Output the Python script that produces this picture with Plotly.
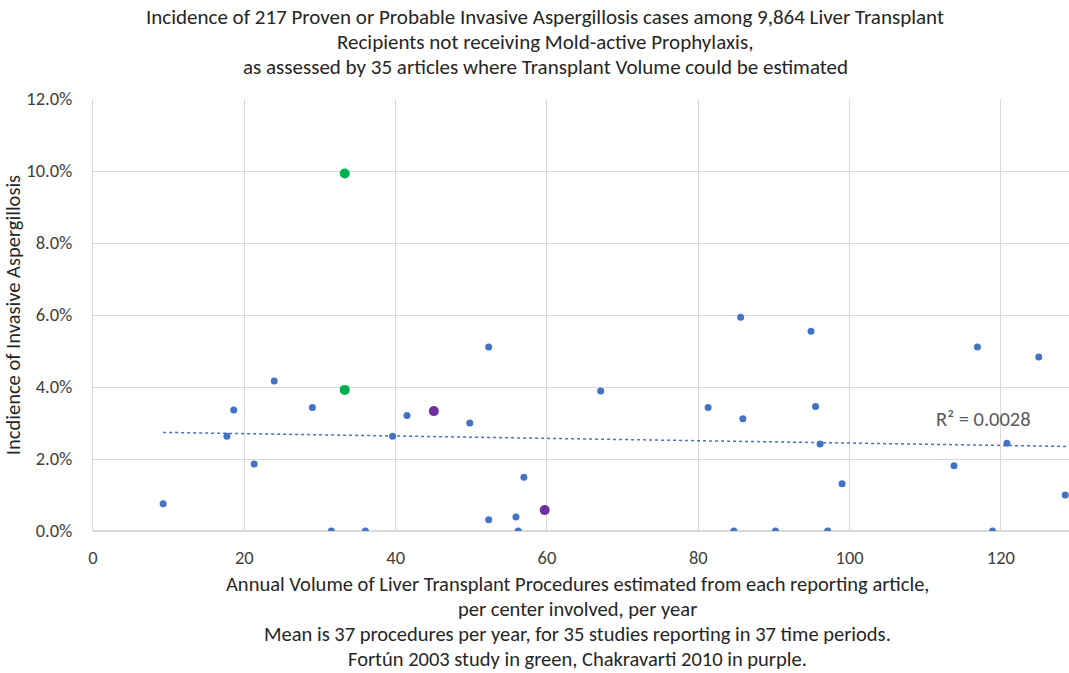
import numpy as np
import plotly.graph_objects as go

# Annual transplant volume per center (x) and IA incidence in % (y)
other_volume = [9.27, 17.7, 18.6, 21.3, 23.95, 29.0, 31.5, 36.0, 39.6, 41.5,
                49.8, 52.3, 52.3, 55.9, 56.2, 56.95, 67.1, 81.3, 84.7, 85.6,
                85.9, 90.2, 94.9, 95.5, 96.1, 97.1, 99.0, 113.8, 116.9, 118.9,
                120.8, 125.0, 128.5]
other_incidence = [0.76, 2.63, 3.36, 1.86, 4.17, 3.43, 0.0, 0.0, 2.63, 3.21,
                   3.0, 5.11, 0.31, 0.39, 0.0, 1.49, 3.89, 3.43, 0.0, 5.94,
                   3.12, 0.0, 5.55, 3.46, 2.42, 0.0, 1.31, 1.81, 5.11, 0.0,
                   2.44, 4.83, 1.0]

fortun_volume = [33.27, 33.27]
fortun_incidence = [9.93, 3.92]

chakravarti_volume = [45.05, 59.7]
chakravarti_incidence = [3.33, 0.58]

r2_label = "R² = 0.0028"

x_range = [0, 129]

title_lines = [
    "Incidence of 217 Proven or Probable Invasive Aspergillosis cases among 9,864 Liver Transplant",
    "Recipients not receiving Mold-active Prophylaxis,",
    "as assessed by 35 articles where Transplant Volume could be estimated",
]
x_title_lines = [
    "Annual Volume of Liver Transplant Procedures estimated from each reporting article,",
    "per center involved, per year",
    "Mean is 37 procedures per year, for 35 studies reporting in 37 time periods.",
    "Fortún 2003 study in green, Chakravarti 2010 in purple.",
]
y_title = "Incdience of Invasive Aspergillosis"

FONT = "Carlito, Calibri, Lato, sans-serif"
TITLE_SIZE = 21
TEXT_SIZE = 20.5
TICK_SIZE = 18.5

# Linear trend over every reporting period
all_x = np.array(other_volume + fortun_volume + chakravarti_volume)
all_y = np.array(other_incidence + fortun_incidence + chakravarti_incidence) / 100
slope, intercept = np.polyfit(all_x, all_y, 1)
trend_x = np.array([all_x.min(), x_range[1]])
trend_y = intercept + slope * trend_x

fig = go.Figure()
fig.add_trace(go.Scatter(
    x=trend_x, y=trend_y, mode="lines",
    line=dict(color="#4472C4", width=1.5, dash="dot"),
    hoverinfo="skip", showlegend=False,
))
fig.add_trace(go.Scatter(
    x=other_volume, y=np.array(other_incidence) / 100, mode="markers",
    marker=dict(color="#4472C4", size=7), showlegend=False, cliponaxis=True,
))
fig.add_trace(go.Scatter(
    x=fortun_volume, y=np.array(fortun_incidence) / 100, mode="markers",
    marker=dict(color="#00B050", size=10), showlegend=False,
))
fig.add_trace(go.Scatter(
    x=chakravarti_volume, y=np.array(chakravarti_incidence) / 100, mode="markers",
    marker=dict(color="#7030A0", size=10), showlegend=False,
))

annotations = []
for i, line in enumerate(title_lines):
    annotations.append(dict(
        text=line, xref="paper", yref="paper", x=(545 - 93) / (1069 - 93),
        xanchor="center", yanchor="middle",
        y=(531 - (17 + 25 * i)) / 432, showarrow=False,
        font=dict(family=FONT, size=TITLE_SIZE, color="#262626"),
    ))
for i, line in enumerate(x_title_lines):
    annotations.append(dict(
        text=line, xref="paper", yref="paper", x=(577 - 93) / (1069 - 93),
        xanchor="center", yanchor="middle",
        y=(531 - (584 + 25 * i)) / 432, showarrow=False,
        font=dict(family=FONT, size=TEXT_SIZE, color="#262626"),
    ))
annotations.append(dict(
    text=r2_label, x=111.1, y=0.031, xref="x", yref="y",
    xanchor="left", yanchor="middle", showarrow=False,
    font=dict(family=FONT, size=TEXT_SIZE, color="#595959"),
))

fig.update_layout(
    width=1069, height=673,
    margin=dict(l=93, r=0, t=99, b=142),
    paper_bgcolor="white", plot_bgcolor="white",
    annotations=annotations,
    font=dict(family=FONT, color="#595959"),
)
fig.update_xaxes(
    range=x_range, tickvals=[0, 20, 40, 60, 80, 100, 120],
    showgrid=True, gridcolor="#D9D9D9", gridwidth=1,
    zeroline=False, showline=False, ticks="", ticklabelstandoff=13,
    tickfont=dict(family=FONT, size=TICK_SIZE, color="#404040"),
)
fig.update_yaxes(
    range=[0, 0.12], tickvals=[0, 0.02, 0.04, 0.06, 0.08, 0.10, 0.12],
    tickformat=".1%", showgrid=True, gridcolor="#D9D9D9", gridwidth=1,
    zeroline=True, zerolinecolor="#D9D9D9", zerolinewidth=2,
    showline=True, linecolor="#D9D9D9", ticks="", ticklabelstandoff=16,
    tickfont=dict(family=FONT, size=TICK_SIZE, color="#404040"),
    title=dict(text=y_title, font=dict(family=FONT, size=TEXT_SIZE, color="#262626"), standoff=8),
)

fig.write_html("out.html")
